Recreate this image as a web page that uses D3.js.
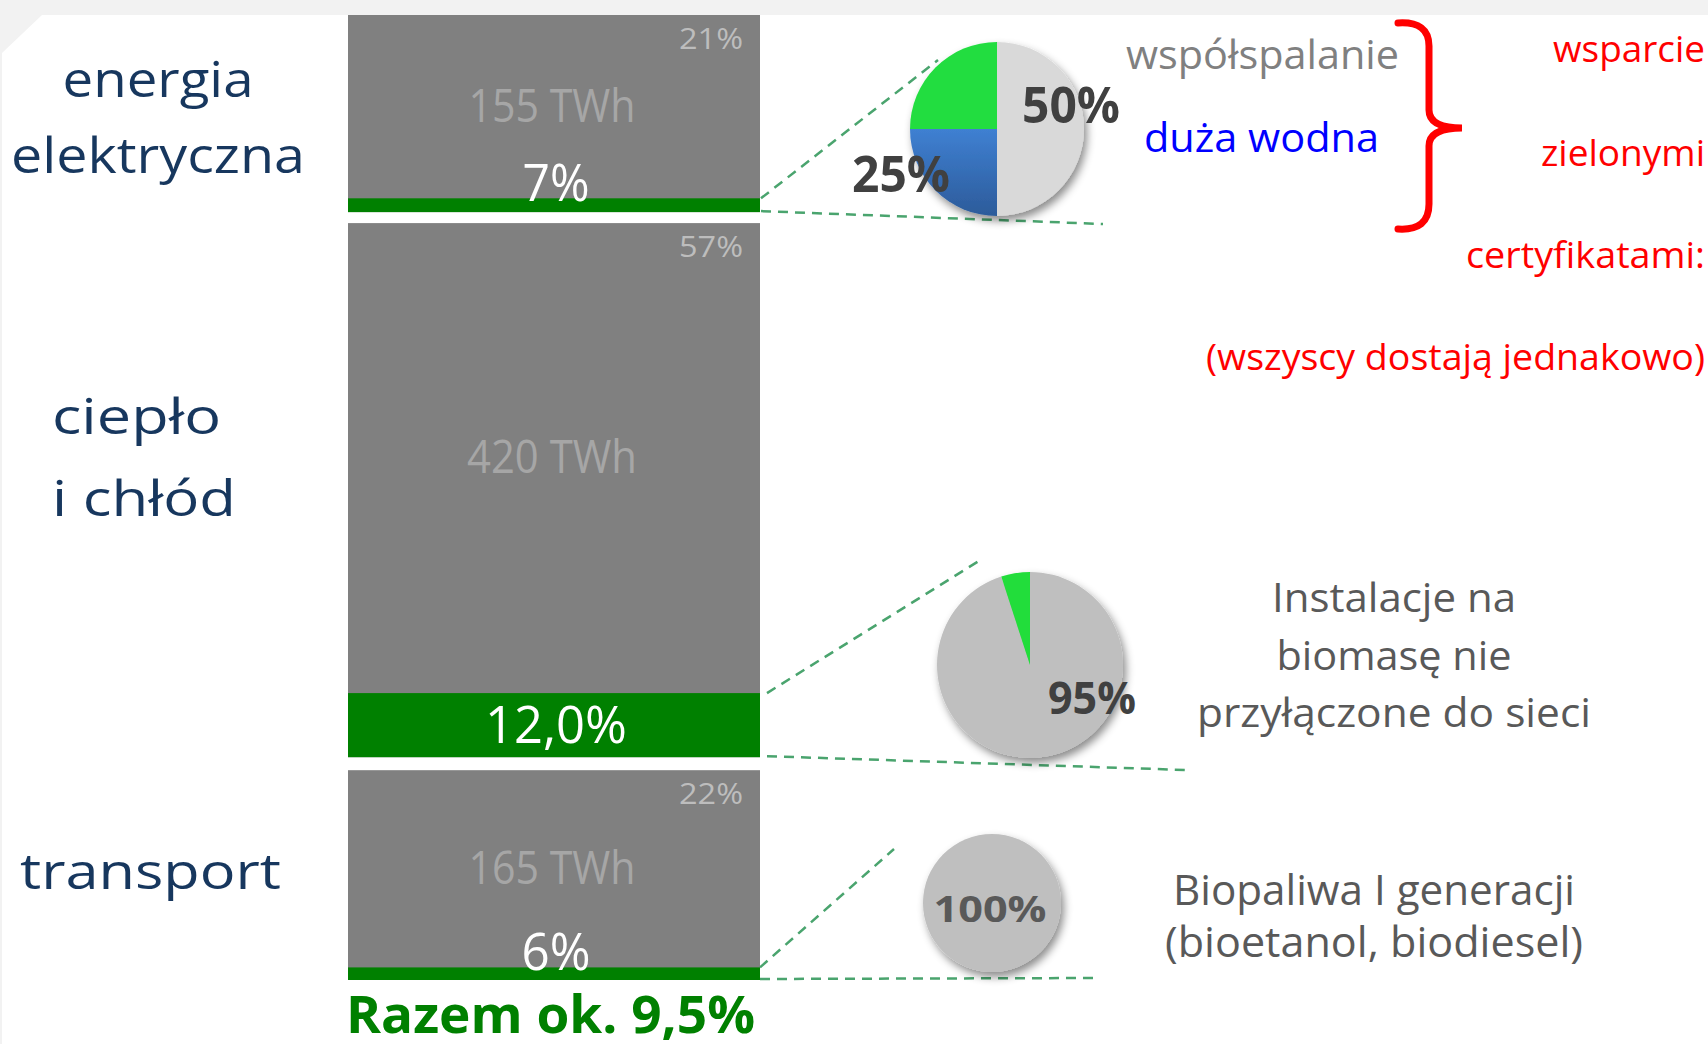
<!DOCTYPE html>
<html>
<head>
<meta charset="utf-8">
<script src="https://cdn.jsdelivr.net/npm/d3@7"></script>
<style>
body{margin:0;background:#fff;}
svg{display:block;font-family:'Open Sans',sans-serif;}
</style>
</head>
<body>
<script>
var w = 1708;
var h = 1044;

// sectors (bars)
var sectorNames = [["energia","elektryczna"],["ciepło","i chłód"],["transport"]];
var sectorTWh = [155, 420, 165];
var sectorShare = ["21%", "57%", "22%"];
var resShare = [7, 12.0, 6];
var resLabels = ["7%", "12,0%", "6%"];
var totalLabel = "Razem ok. 9,5%";

// pies
var elecPie = [50, 25, 25];
var elecPieLabels = ["50%", "25%", ""];
var heatPie = [95, 5];
var heatPieLabels = ["95%", ""];
var transportPie = [100];
var transportPieLabels = ["100%"];

// notes
var elecNotes = ["współspalanie", "duża wodna"];
var supportNotes = ["wsparcie", "zielonymi", "certyfikatami:", "(wszyscy dostają jednakowo)"];
var heatNotes = ["Instalacje na", "biomasę nie", "przyłączone do sieci"];
var transportNotes = ["Biopaliwa I generacji", "(bioetanol, biodiesel)"];

var svg = d3.select("body")
	.append("svg")
	.attr("width", w)
	.attr("height", h);

var defs = svg.append("defs");
var shadow = defs.append("filter").attr("id", "shadow")
	.attr("x", "-30%").attr("y", "-30%").attr("width", "160%").attr("height", "160%");
shadow.append("feDropShadow")
	.attr("dx", 3).attr("dy", 5).attr("stdDeviation", 4)
	.attr("flood-color", "#000").attr("flood-opacity", 0.45);
var blue = defs.append("linearGradient").attr("id", "blueGrad")
	.attr("x1", 0).attr("y1", 0).attr("x2", 0).attr("y2", 1);
blue.append("stop").attr("offset", "0%").attr("stop-color", "#3f80d2");
blue.append("stop").attr("offset", "100%").attr("stop-color", "#2c5b9a");

// background
svg.append("rect").attr("width", w).attr("height", h).attr("fill", "#f2f2f2");
svg.append("path")
	.attr("d", "M42,15 L" + w + ",15 L" + w + "," + h + " L2," + h + " L2,53 Z")
	.attr("fill", "#fff");

function label(x, y, str, size, fill, anchor, weight, len){
	var t = svg.append("text")
		.attr("x", x)
		.attr("y", y)
		.attr("font-size", size)
		.attr("fill", fill)
		.attr("text-anchor", anchor || "start")
		.attr("font-weight", weight || "normal")
		.text(str);
	if(len){
		t.attr("textLength", len).attr("lengthAdjust", "spacingAndGlyphs");
	}
	return t;
}

// bars
var barX0 = 348;
var barX1 = 760;
var barTop = 15;
var barBottom = 980;
var gaps = [11, 13];

var hScale = d3.scaleLinear()
	.domain([0, d3.sum(sectorTWh)])
	.range([0, barBottom - barTop - d3.sum(gaps)]);

var bars = [];
var yPos = barTop;
sectorTWh.forEach(function(v, i){
	var bh = hScale(v);
	var pScale = d3.scaleLinear().domain([0, 100]).range([0, bh]);
	bars.push({
		twh: v,
		top: yPos,
		bottom: yPos + bh,
		greenTop: yPos + bh - pScale(resShare[i])
	});
	yPos += bh + (gaps[i] || 0);
});

svg.selectAll("rect.total")
	.data(bars)
	.enter()
	.append("rect")
	.attr("class", "total")
	.attr("x", barX0)
	.attr("y", function(d){ return d.top; })
	.attr("width", barX1 - barX0)
	.attr("height", function(d){ return d.bottom - d.top; })
	.attr("fill", "#808080");

svg.selectAll("rect.res")
	.data(bars)
	.enter()
	.append("rect")
	.attr("class", "res")
	.attr("x", barX0)
	.attr("y", function(d){ return d.greenTop; })
	.attr("width", barX1 - barX0)
	.attr("height", function(d){ return d.bottom - d.greenTop; })
	.attr("fill", "#008000");

var barMid = (barX0 + barX1) / 2;
var twhWidths = [167, 170, 167];
var resWidths = [67, 142, 69];
bars.forEach(function(b, i){
	label(barX1 - 17, b.top + 34, sectorShare[i], 30, "#bdbdbd", "end", "normal", 64);
	label(barMid - 2, (b.top + b.greenTop) / 2 + 15, b.twh + " TWh", 45, "#a6a6a6", "middle", "normal", twhWidths[i]);
	var ly = i == 1 ? b.bottom - 14 : b.greenTop + 3;
	label(barMid + 2, ly, resLabels[i], 52, "#fff", "middle", "normal", resWidths[i]);
});

label(346, 1033, totalLabel, 52, "#008000", "start", "bold", 409);

// sector names
label(158, 97, sectorNames[0][0], 50, "#17375e", "middle", "normal", 191);
label(158, 173, sectorNames[0][1], 50, "#17375e", "middle", "normal", 294);
label(52, 434, sectorNames[1][0], 50, "#17375e", "start", "normal", 169);
label(52, 516, sectorNames[1][1], 50, "#17375e", "start", "normal", 184);
label(20, 889, sectorNames[2][0], 50, "#17375e", "start", "normal", 261);

// pies
var pies = [
	{data: elecPie, colors: ["#d9d9d9", "url(#blueGrad)", "#22dd40"], labels: elecPieLabels,
		cx: 997, cy: 129, r: 87, up: [938, 60], low: [1103, 224], startX: 761,
		lab: [[1071, 123, 50, 98], [901, 192, 50, 98]], labColor: "#404040"},
	{data: heatPie, colors: ["#bfbfbf", "#22dd3a"], labels: heatPieLabels,
		cx: 1030, cy: 665, r: 93, up: [982, 559], low: [1186, 770], startX: 767,
		lab: [[1092, 714, 45, 88]], labColor: "#404040"},
	{data: transportPie, colors: ["#bfbfbf"], labels: transportPieLabels,
		cx: 992, cy: 903, r: 69, up: [894, 849], low: [1100, 978], startX: 760,
		lab: [[990, 922, 35, 113]], labColor: "#595959"}
];

var pie = d3.pie().sort(null).value(function(d){ return d; });

pies.forEach(function(p, i){
	var b = bars[i];
	svg.append("line")
		.attr("x1", p.startX).attr("y1", b.greenTop)
		.attr("x2", p.up[0]).attr("y2", p.up[1])
		.attr("stroke", "#4aa46e").attr("stroke-width", 2.5)
		.attr("stroke-dasharray", "10,7");
	svg.append("line")
		.attr("x1", p.startX).attr("y1", b.bottom - 1)
		.attr("x2", p.low[0]).attr("y2", p.low[1])
		.attr("stroke", "#4aa46e").attr("stroke-width", 2.5)
		.attr("stroke-dasharray", "10,7");

	var arc = d3.arc().innerRadius(0).outerRadius(p.r);
	var g = svg.append("g")
		.attr("transform", "translate(" + p.cx + "," + p.cy + ")")
		.attr("filter", "url(#shadow)");
	g.selectAll("path")
		.data(pie(p.data))
		.enter()
		.append("path")
		.attr("d", arc)
		.attr("fill", function(d, j){ return p.colors[j]; });

	p.lab.forEach(function(l, j){
		label(l[0], l[1], p.labels[j], l[2], p.labColor, "middle", "bold", l[3]);
	});
});

// notes
label(1126, 69, elecNotes[0], 41, "#808080", "start", "normal", 273);
label(1144, 152, elecNotes[1], 41, "#0000ff", "start", "normal", 235);

svg.append("path")
	.attr("d", "M1398,23 Q1429,21 1429,46 L1429,110 Q1429,128 1462,128 Q1429,128 1429,146 L1429,204 Q1429,231 1398,229")
	.attr("fill", "none")
	.attr("stroke", "#ff0000")
	.attr("stroke-width", 7)
	.attr("stroke-linecap", "round");

var supY = [62, 166, 268, 370];
var supW = [152, 164, 239, 499];
supportNotes.forEach(function(s, i){
	label(1705, supY[i], s, 37, "#ff0000", "end", "normal", supW[i]);
});

var heatY = [612, 670, 727];
var heatW = [244, 235, 394];
heatNotes.forEach(function(s, i){
	label(1394, heatY[i], s, 40, "#595959", "middle", "normal", heatW[i]);
});

var trY = [905, 957];
var trW = [402, 418];
transportNotes.forEach(function(s, i){
	label(1374, trY[i], s, 42, "#595959", "middle", "normal", trW[i]);
});
</script>
</body>
</html>
